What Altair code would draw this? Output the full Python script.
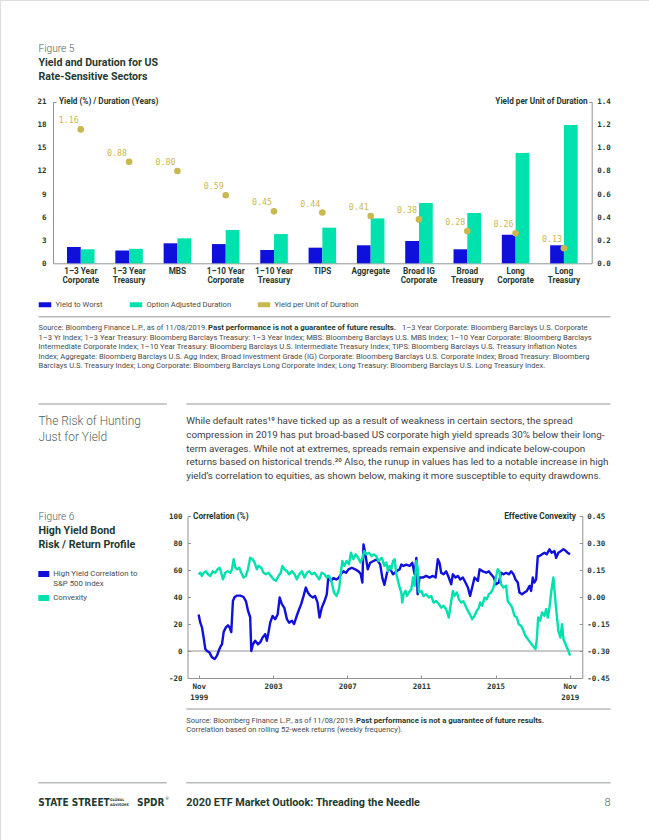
import altair as alt
import pandas as pd

# ------------------------------------------------------------------ data (Figure 5)
sectors = ["1–3 Year\nCorporate", "1–3 Year\nTreasury", "MBS", "1–10 Year\nCorporate",
           "1–10 Year\nTreasury", "TIPS", "Aggregate", "Broad IG\nCorporate",
           "Broad\nTreasury", "Long\nCorporate", "Long\nTreasury"]
yield_to_worst = [2.12, 1.65, 2.60, 2.50, 1.73, 2.03, 2.34, 2.90, 1.82, 3.72, 2.34]
option_adjusted_duration = [1.82, 1.88, 3.25, 4.33, 3.80, 4.63, 5.84, 7.84, 6.54, 14.33, 17.97]
yield_per_unit_duration = [1.16, 0.88, 0.80, 0.59, 0.45, 0.44, 0.41, 0.38, 0.28, 0.26, 0.13]
fig5_series = ["Yield to Worst", "Option Adjusted Duration", "Yield per Unit of Duration"]
fig5_left_ticks = [0, 3, 6, 9, 12, 15, 18, 21]
fig5_right_ticks = [0.0, 0.2, 0.4, 0.6, 0.8, 1.0, 1.2, 1.4]

# ------------------------------------------------------------------ data (Figure 6)
corr_years = [1999.84, 1999.93, 2000.02, 2000.11, 2000.20, 2000.29, 2000.42, 2000.56, 2000.70, 2000.83,
              2000.92, 2001.01, 2001.10, 2001.19, 2001.31, 2001.42, 2001.51, 2001.60, 2001.69, 2001.78,
              2001.91, 2002.09, 2002.26, 2002.39, 2002.50, 2002.62, 2002.68, 2002.77, 2002.89, 2003.04,
              2003.16, 2003.29, 2003.43, 2003.52, 2003.61, 2003.70, 2003.83, 2003.97, 2004.10, 2004.21,
              2004.33, 2004.46, 2004.60, 2004.72, 2004.87, 2004.99, 2005.10, 2005.23, 2005.37, 2005.50,
              2005.62, 2005.73, 2005.86, 2006.00, 2006.12, 2006.25, 2006.36, 2006.48, 2006.63, 2006.75,
              2006.84, 2006.97, 2007.11, 2007.26, 2007.38, 2007.52, 2007.65, 2007.79, 2007.92, 2008.10,
              2008.28, 2008.46, 2008.58, 2008.67, 2008.73, 2008.82, 2008.96, 2009.09, 2009.27, 2009.45,
              2009.63, 2009.75, 2009.86,
              2010.00, 2010.14, 2010.32, 2010.50, 2010.68, 2010.77, 2010.89, 2011.04, 2011.22, 2011.36,
              2011.49, 2011.58, 2011.65, 2011.75, 2011.93, 2012.11, 2012.29, 2012.47, 2012.62, 2012.74,
              2012.83, 2012.92, 2013.05, 2013.19, 2013.33, 2013.46, 2013.55, 2013.69, 2013.82, 2013.95,
              2014.09, 2014.23, 2014.36, 2014.48, 2014.59, 2014.72, 2014.90, 2014.99, 2015.17, 2015.35,
              2015.49, 2015.61, 2015.76, 2015.88, 2016.03, 2016.15, 2016.28, 2016.42, 2016.57, 2016.69,
              2016.82, 2016.93, 2017.05, 2017.14, 2017.28, 2017.41, 2017.54, 2017.68, 2017.77, 2017.86,
              2017.95, 2018.04, 2018.13, 2018.22, 2018.36, 2018.49, 2018.61, 2018.76, 2018.88, 2019.03,
              2019.12, 2019.24, 2019.38, 2019.51, 2019.65, 2019.74, 2019.87]
corr_values = [27, 21, 17.5, 10, 1.5, 0, -1, -4.7, -6, -3.4,
               0, 3, 5, 14, 17.5, 19, 17.5, 14, 37, 40,
               41, 41, 40, 37, 30, 25, 0, 5, 7.6, 5,
               6.4, 10, 12.5, 7.6, 13.8, 21, 26, 23.6, 27, 39.6,
               34.7, 32, 23.6, 21, 22.4, 20, 24.8, 29.8, 34.7, 40.8,
               47, 43.3, 41, 39.6, 40.8, 36, 24.8, 32, 37, 42,
               55.6, 52, 54, 53, 54, 57, 59, 58, 60.5, 61.7,
               60.5, 59, 57, 50.7, 79, 72.8, 60.5, 65.4, 66.7, 67.9,
               64.2, 54, 49,
               58, 61.7, 56.8, 59, 60.5, 64, 63, 64, 63, 65.4,
               56.8, 69, 42, 54.4, 54.4, 55.6, 54.4, 55.6, 54.4, 68,
               65.4, 58, 56.8, 59, 54.4, 49.4, 56.8, 54.4, 55.6, 53,
               54.4, 50.7, 47, 40.8, 47, 54.4, 52, 60.5, 59, 58,
               59, 56.8, 54.4, 49.4, 50.7, 58, 56.8, 58, 56.8, 59,
               56.8, 53, 50.7, 43.3, 42, 43.3, 44.5, 48.2, 44.5, 54.4,
               50.7, 53, 70.3, 70.3, 71.6, 72.8, 71.6, 75.3, 72.8, 74,
               69, 72.8, 74, 75.3, 74, 72.8, 71.6]

conv_years = [1999.84, 1999.93, 2000.02, 2000.11, 2000.24, 2000.34, 2000.47, 2000.60, 2000.74, 2000.86,
              2000.97, 2001.06, 2001.15, 2001.28, 2001.40, 2001.55, 2001.64, 2001.73, 2001.82, 2001.91,
              2002.03, 2002.14, 2002.26, 2002.39, 2002.50, 2002.62, 2002.75, 2002.86, 2002.98, 2003.07,
              2003.22, 2003.34, 2003.47, 2003.61, 2003.74, 2003.88, 2004.01, 2004.15, 2004.27, 2004.36,
              2004.47, 2004.60, 2004.72, 2004.87, 2005.01, 2005.14, 2005.26, 2005.41, 2005.55, 2005.68,
              2005.80, 2005.94, 2006.09, 2006.21, 2006.34, 2006.48, 2006.63, 2006.75, 2006.88, 2007.02,
              2007.14, 2007.28, 2007.41, 2007.50, 2007.59, 2007.70, 2007.82, 2007.95, 2008.05, 2008.18,
              2008.31, 2008.44, 2008.57, 2008.68, 2008.77, 2008.89, 2009.02, 2009.17, 2009.29, 2009.42,
              2009.54, 2009.71, 2009.86,
              2009.96, 2010.05, 2010.14, 2010.23, 2010.32, 2010.41, 2010.50, 2010.59, 2010.68, 2010.77,
              2010.82, 2010.89, 2011.00, 2011.07, 2011.18, 2011.31, 2011.40, 2011.49, 2011.58, 2011.65,
              2011.72, 2011.84, 2011.97, 2012.11, 2012.26, 2012.38, 2012.51, 2012.65, 2012.80, 2012.92,
              2013.05, 2013.19, 2013.33, 2013.46, 2013.55, 2013.64, 2013.77, 2013.87, 2014.00, 2014.12,
              2014.23, 2014.36, 2014.48, 2014.59, 2014.72, 2014.84, 2014.95, 2015.02, 2015.13, 2015.26,
              2015.38, 2015.49, 2015.61, 2015.74, 2015.85, 2015.97, 2016.06, 2016.15, 2016.28, 2016.42,
              2016.51, 2016.64, 2016.75, 2016.87, 2017.00, 2017.10, 2017.23, 2017.36, 2017.46, 2017.59,
              2017.72, 2017.86, 2018.00, 2018.07, 2018.15, 2018.25, 2018.36, 2018.49, 2018.58, 2018.67,
              2018.76, 2018.85, 2018.97, 2019.08, 2019.15, 2019.24, 2019.35, 2019.44, 2019.51, 2019.62,
              2019.69, 2019.78, 2019.87]
conv_values = [0.126, 0.135, 0.117, 0.135, 0.143, 0.126, 0.117, 0.143, 0.135, 0.154,
               0.163, 0.135, 0.098, 0.135, 0.143, 0.135, 0.154, 0.210, 0.163, 0.154,
               0.163, 0.135, 0.108, 0.117, 0.154, 0.218, 0.210, 0.191, 0.154, 0.173,
               0.163, 0.135, 0.126, 0.135, 0.117, 0.098, 0.090, 0.117, 0.135, 0.173,
               0.154, 0.143, 0.126, 0.143, 0.126, 0.098, 0.126, 0.143, 0.108, 0.135,
               0.143, 0.126, 0.135, 0.117, 0.098, 0.135, 0.126, 0.108, 0.117, 0.080,
               0.025, 0.006, 0.043, 0.126, 0.200, 0.173, 0.200, 0.182, 0.246, 0.210,
               0.237, 0.218, 0.191, 0.218, 0.255, 0.237, 0.246, 0.227, 0.237, 0.227,
               0.200, 0.218, 0.173,
               0.191, 0.143, 0.173, 0.154, 0.200, 0.210, 0.126, 0.090, 0.053, 0.025,
               -0.031, 0.015, 0.034, 0.006, 0.025, 0.043, 0.108, 0.062, 0.200, 0.163,
               0.025, 0.034, 0.006, 0.015, -0.003, 0.006, -0.031, -0.023, -0.040, -0.059,
               -0.049, -0.068, -0.114, -0.023, 0.034, 0.006, 0.025, -0.012, -0.031, -0.023,
               -0.049, -0.077, -0.098, -0.123, -0.104, -0.077, -0.059, -0.031, -0.049, -0.003,
               -0.012, 0.015, 0.025, 0.053, 0.098, 0.154, 0.143, 0.071, 0.053, 0.062,
               -0.023, -0.040, -0.059, -0.104, -0.114, -0.151, -0.160, -0.188, -0.215, -0.233,
               -0.252, -0.271, -0.289, -0.243, -0.114, -0.132, -0.086, -0.104, -0.068, -0.114,
               -0.059, 0.025, 0.108, -0.023, -0.098, -0.188, -0.225, -0.151, -0.233, -0.261,
               -0.280, -0.299, -0.326]
fig6_series = ["High Yield Correlation to S&P 500 Index", "Convexity"]
fig6_left_ticks = [-20, 0, 20, 40, 60, 80, 100]
fig6_right_ticks = [-0.45, -0.30, -0.15, 0.0, 0.15, 0.30, 0.45]
fig6_x_ticks = [1999.85, 2003.85, 2007.85, 2011.85, 2015.85, 2019.85]
fig6_x_labels = ["Nov\n1999", "2003", "2007", "2011", "2015", "Nov\n2019"]
fig6_x_domain = [1999.24, 2020.53]

# ------------------------------------------------------------------ text content
paragraph = [
    "While default rates¹⁹ have ticked up as a result of weakness in certain sectors, the spread",
    "compression in 2019 has put broad-based US corporate high yield spreads 30% below their long-",
    "term averages. While not at extremes, spreads remain expensive and indicate below-coupon",
    "returns based on historical trends.²⁰ Also, the runup in values has led to a notable increase in high",
    "yield’s correlation to equities, as shown below, making it more susceptible to equity drawdowns.",
]
source5 = [
    "1–3 Yr Index; 1–3 Year Treasury: Bloomberg Barclays Treasury: 1–3 Year Index; MBS: Bloomberg Barclays U.S. MBS Index; 1–10 Year Corporate: Bloomberg Barclays",
    "Intermediate Corporate Index; 1–10 Year Treasury: Bloomberg Barclays U.S. Intermediate Treasury Index; TIPS: Bloomberg Barclays U.S. Treasury Inflation Notes",
    "Index; Aggregate: Bloomberg Barclays U.S. Agg Index; Broad Investment Grade (IG) Corporate: Bloomberg Barclays U.S. Corporate Index; Broad Treasury: Bloomberg",
    "Barclays U.S. Treasury Index; Long Corporate: Bloomberg Barclays Long Corporate Index; Long Treasury: Bloomberg Barclays U.S. Long Treasury Index.",
]

# ------------------------------------------------------------------ styles
W, H = 649, 840
BLUE = "#1010dc"
TEAL = "#00e2ae"
GOLD = "#c9b84e"
DARK = "#1f3a2f"
FIGGREY = "#4f5f57"
BODY = "#3e3e3e"
SRC = "#4a4a4a"
RULE = "#b7bab9"
AXIS = "#8f9492"
SANS = "Roboto"
MONO = "DejaVu Sans Mono"
NARROW = "'Liberation Sans Narrow', 'DejaVu Sans Condensed', sans-serif"

one = pd.DataFrame({"k": [0]})


def txt(s, x, y, size, weight="normal", color=DARK, font=SANS, align="left", baseline="middle"):
    return alt.Chart(one).mark_text(font=font, fontSize=size, fontWeight=weight, color=color,
                                    align=align, baseline=baseline).encode(
        x=alt.value(x), y=alt.value(y), text=alt.value(s))


def hline(x1, x2, y, color=RULE, w=1.4):
    return alt.Chart(one).mark_rule(color=color, strokeWidth=w).encode(
        x=alt.value(x1), x2=alt.value(x2), y=alt.value(y))


def swatch(x1, x2, y1, y2, color):
    return alt.Chart(one).mark_rect(color=color).encode(
        x=alt.value(x1), x2=alt.value(x2), y=alt.value(y1), y2=alt.value(y2))


def tick_axis(orient, offset, values):
    # axis that only draws short inward-pointing tick marks
    return alt.Axis(orient=orient, offset=offset, values=values, labels=False, domain=False,
                    ticks=True, tickSize=3, tickColor=AXIS, tickWidth=1, grid=False, title=None)


mono_axis = dict(labelFont=MONO, labelFontSize=7.5, labelFontWeight="bold", labelColor=DARK,
                 domainColor=AXIS, domainWidth=1, ticks=False, grid=False, title=None)
minus_fix2 = "replace(format(datum.value, '.2f'), '−', '-')"
minus_fix0 = "replace(format(datum.value, 'd'), '−', '-')"

# ------------------------------------------------------------------ Figure 5
F5_TOP, F5_BOT, F5_L, F5_R = 101.7, 263.3, 53.0, 591.7
df5 = pd.DataFrame({
    "sector": sectors * 2,
    "series": [fig5_series[0]] * len(sectors) + [fig5_series[1]] * len(sectors),
    "value": yield_to_worst + option_adjusted_duration,
})
df5d = pd.DataFrame({"sector": sectors, "ratio": yield_per_unit_duration})

x5 = alt.Scale(domain=sectors, range=[F5_L, F5_R], paddingInner=0.43, paddingOuter=0.29)
y5l = alt.Scale(domain=[0, 21], range=[F5_BOT, F5_TOP], nice=False)
y5r = alt.Scale(domain=[0, 1.4], range=[F5_BOT, F5_TOP], nice=False)

bars = alt.Chart(df5).mark_bar().encode(
    x=alt.X("sector:N", scale=x5, axis=alt.Axis(
        orient="bottom", offset=F5_BOT - H, labelExpr="split(datum.label, '\\n')",
        labelFont=SANS, labelFontSize=8.2, labelFontWeight="bold", labelColor=DARK,
        labelLineHeight=8.6, labelPadding=4.5, labelAngle=0, labelOverlap=False,
        domainColor=AXIS, domainWidth=1, ticks=False, grid=False, title=None)),
    xOffset=alt.XOffset("series:N", scale=alt.Scale(domain=fig5_series[:2], paddingInner=0, paddingOuter=0)),
    y=alt.Y("value:Q", scale=y5l, axis=alt.Axis(orient="left", offset=-F5_L, values=fig5_left_ticks,
                                                 labelPadding=7, **mono_axis)),
    color=alt.Color("series:N", scale=alt.Scale(domain=fig5_series, range=[BLUE, TEAL, GOLD]),
                    legend=alt.Legend(orient="none", legendX=38.5, legendY=297.8, direction="horizontal",
                                      title=None, symbolType="M-1,-0.4H1V0.4H-1Z", symbolSize=156,
                                      symbolStrokeWidth=0, symbolOpacity=1, labelFont=SANS,
                                      labelFontSize=7.6, labelColor=SRC, columnPadding=26,
                                      labelOffset=4, padding=0)),
)
left5_ticks = alt.Chart(one).mark_rule(opacity=0).encode(
    y=alt.YDatum(0, scale=y5l, axis=tick_axis("right", F5_L - W, [21])))
dots = alt.Chart(df5d).mark_circle(size=44, opacity=1, color=GOLD).encode(
    x=alt.X("sector:N", scale=x5, axis=None),
    y=alt.Y("ratio:Q", scale=y5r, axis=alt.Axis(orient="right", offset=F5_R - W, values=fig5_right_ticks,
                                                 format=".1f", labelPadding=5, **mono_axis)),
)
dot_labels = alt.Chart(df5d).mark_text(dx=-12, dy=-8, font=MONO, fontSize=8.3, color=GOLD).encode(
    x=alt.X("sector:N", scale=x5, axis=None),
    y=alt.Y("ratio:Q", scale=y5r, axis=tick_axis("left", -F5_R, [1.4])),
    text=alt.Text("ratio:Q", format=".2f"),
)
fig5 = alt.layer(
    alt.layer(bars, left5_ticks).resolve_axis(x="independent", y="independent"),
    alt.layer(dots, dot_labels).resolve_axis(x="independent", y="independent"),
).resolve_scale(y="independent").resolve_axis(x="independent", y="independent")

# ------------------------------------------------------------------ Figure 6
F6_TOP, F6_BOT, F6_L, F6_R = 516.0, 678.0, 187.5, 582.3
x6 = alt.Scale(domain=fig6_x_domain, range=[F6_L, F6_R], nice=False, zero=False)
y6l = alt.Scale(domain=[-20, 100], range=[F6_BOT, F6_TOP], nice=False, zero=False)
y6r = alt.Scale(domain=[-0.45, 0.45], range=[F6_BOT, F6_TOP], nice=False, zero=False)
color6 = alt.Scale(domain=fig6_series, range=[BLUE, TEAL])

x_label_expr = " : ".join(
    f"abs(datum.value - {v}) < 0.01 ? split('{lab}', '\\n')".replace("\n", "\\n")
    for v, lab in zip(fig6_x_ticks, fig6_x_labels)
) + " : ''"

dfc = pd.DataFrame({"year": corr_years, "value": corr_values, "series": fig6_series[0]})
dfv = pd.DataFrame({"year": conv_years, "value": conv_values, "series": fig6_series[1]})

zero_line = alt.Chart(one).mark_rule(color=AXIS, strokeWidth=1).encode(
    x=alt.XDatum(fig6_x_domain[0], scale=x6, axis=tick_axis("top", -F6_BOT, fig6_x_ticks)),
    x2=alt.X2Datum(fig6_x_domain[1]),
    y=alt.YDatum(0, scale=y6l, axis=tick_axis("right", F6_L - W, fig6_left_ticks)),
)
corr_line = alt.Chart(dfc).mark_line(strokeWidth=2.4, strokeJoin="round").encode(
    x=alt.X("year:Q", scale=x6, axis=alt.Axis(
        orient="bottom", offset=F6_BOT - H, values=fig6_x_ticks, labelExpr=x_label_expr,
        labelLineHeight=10.7, labelPadding=4.5, labelFlush=False, labelOverlap=False, **mono_axis)),
    y=alt.Y("value:Q", scale=y6l, axis=alt.Axis(orient="left", offset=-F6_L, values=fig6_left_ticks,
                                                 labelExpr=minus_fix0, labelPadding=5.5, **mono_axis)),
    color=alt.Color("series:N", scale=color6, legend=None),
)
conv_line = alt.Chart(dfv).mark_line(strokeWidth=2.4, strokeJoin="round").encode(
    x=alt.X("year:Q", scale=x6, axis=None),
    y=alt.Y("value:Q", scale=y6r, axis=alt.Axis(orient="right", offset=F6_R - W, values=fig6_right_ticks,
                                                 labelExpr=minus_fix2, labelPadding=4.5, **mono_axis)),
    color=alt.Color("series:N", scale=color6, legend=None),
)
right6_ticks = alt.Chart(one).mark_rule(opacity=0).encode(
    y=alt.YDatum(0, scale=y6r, axis=tick_axis("left", -F6_R, fig6_right_ticks)))
fig6 = alt.layer(
    alt.layer(zero_line, corr_line).resolve_axis(x="independent", y="independent"),
    alt.layer(conv_line, right6_ticks).resolve_axis(x="independent", y="independent"),
).resolve_scale(y="independent").resolve_axis(x="independent", y="independent")

# ------------------------------------------------------------------ page text and rules
decor = [
    # Figure 5 header
    txt("Figure 5", 38.5, 49, 10.2, 300, FIGGREY),
    txt("Yield and Duration for US", 38.5, 63.3, 10.6, "bold", DARK),
    txt("Rate-Sensitive Sectors", 38.5, 76.7, 10.6, "bold", DARK),
    txt("Yield (%) / Duration (Years)", 59, 101.7, 8.2, "bold", DARK),
    txt("Yield per Unit of Duration", 587.7, 101.7, 8.2, "bold", DARK, align="right"),
    # Figure 5 source
    hline(38.5, 610.5, 316.7),
    txt("Source: Bloomberg Finance L.P., as of 11/08/2019.", 38.5, 328.3, 7.5, "normal", SRC),
    txt("Past performance is not a guarantee of future results.", 208, 328.3, 7.8, "bold", DARK),
    txt("1–3 Year Corporate: Bloomberg Barclays U.S. Corporate", 402, 328.3, 7.5, "normal", SRC),
]
for i, line in enumerate(source5):
    decor.append(txt(line, 38.5, 337.8 + 9.5 * i, 7.6, "normal", SRC))

decor += [
    hline(38.5, 166.8, 404),
    hline(186.3, 610.5, 404),
    txt("The Risk of Hunting", 38.5, 421, 11.9, 300, FIGGREY),
    txt("Just for Yield", 38.5, 437, 11.9, 300, FIGGREY),
]
for i, line in enumerate(paragraph):
    decor.append(txt(line, 186.3, 421 + 13.75 * i, 9.8, "normal", BODY))

decor += [
    # Figure 6 header and legend
    txt("Figure 6", 38.5, 517, 10.2, 300, FIGGREY),
    txt("High Yield Bond", 38.5, 531, 10.7, "bold", DARK),
    txt("Risk / Return Profile", 38.5, 545, 10.7, "bold", DARK),
    swatch(38.3, 49.3, 571, 577, BLUE),
    txt("High Yield Correlation to", 53.3, 574, 7.8, "normal", SRC),
    txt("S&P 500 Index", 53.3, 584, 7.8, "normal", SRC),
    swatch(38.3, 49.3, 595, 601, TEAL),
    txt("Convexity", 53.3, 598, 7.8, "normal", SRC),
    txt("Correlation (%)", 193, 517, 8.3, "bold", DARK),
    txt("Effective Convexity", 576, 517, 8.3, "bold", DARK, align="right"),
    # Figure 6 source
    hline(186.3, 610.5, 709),
    txt("Source: Bloomberg Finance L.P., as of 11/08/2019.", 186.3, 720.7, 7.5, "normal", SRC),
    txt("Past performance is not a guarantee of future results.", 356, 720.7, 7.8, "bold", DARK),
    txt("Correlation based on rolling 52-week returns (weekly frequency).", 186.3, 730, 7.6, "normal", SRC),
    # footer
    hline(38.3, 166.7, 782.7),
    hline(186.3, 610.5, 782.7),
    txt("STATE STREET", 38.3, 803, 10.0, "bold", DARK, font=NARROW),
    txt("GLOBAL", 110, 799.8, 3.6, "bold", DARK, font=NARROW),
    txt("ADVISORS", 110, 805.2, 3.6, "bold", DARK, font=NARROW),
    txt("SPDR", 137, 803, 10.0, "bold", DARK, font=NARROW),
    txt("®", 165.5, 798.5, 4, "normal", DARK),
    txt("2020 ETF Market Outlook: Threading the Needle", 186.3, 803, 10.8, "bold", DARK),
    txt("8", 610.5, 803, 11, 300, FIGGREY, align="right"),
]

chart = alt.layer(fig5, fig6, *decor).resolve_scale(
    x="independent", y="independent", color="independent"
).properties(
    width=W, height=H, padding=0, autosize=alt.AutoSizeParams(type="none"),
    background="white",
).configure_view(stroke=None).configure(font=SANS)

chart.save("out.html", embed_options={"renderer": "svg", "actions": False})
